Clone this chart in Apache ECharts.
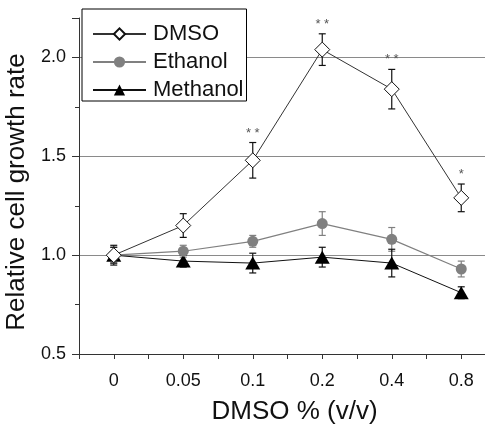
<!DOCTYPE html>
<html>
<head>
<meta charset="utf-8">
<script src="https://cdn.jsdelivr.net/npm/echarts@6/dist/echarts.min.js"></script>
<style>
  html, body { margin: 0; padding: 0; background: #fff; }
  #chart { width: 485px; height: 430px; }
</style>
</head>
<body>
<div id="chart"></div>
<script>
// values
const categories = ['0', '0.05', '0.1', '0.2', '0.4', '0.8'];
const dmso = [1.00, 1.15, 1.48, 2.04, 1.84, 1.29];
const dmsoErr = [0.05, 0.06, 0.09, 0.08, 0.10, 0.07];
const ethanol = [1.00, 1.02, 1.07, 1.16, 1.08, 0.93];
const ethanolErr = [0.04, 0.03, 0.03, 0.06, 0.06, 0.04];
const methanol = [1.00, 0.97, 0.96, 0.99, 0.96, 0.81];
const methanolErr = [0.04, 0.03, 0.05, 0.05, 0.07, 0.03];
const significance = ['', '', '**', '**', '**', '*'];

const font = 'Liberation Sans, Arial, sans-serif';
const chart = echarts.init(document.getElementById('chart'));

const toPoints = arr => arr.map((v, i) => [i, v]);
const toErr = (arr, err) => arr.map((v, i) => [i, v, err[i]]);

// error bar drawer, optional star labels above the upper cap
function errorBars(color, marks) {
  return function (params, api) {
    const x = api.value(0), v = api.value(1), e = api.value(2);
    const top = api.coord([x, v + e]);
    const bot = api.coord([x, v - e]);
    const w = 3.5;
    const style = { stroke: color, lineWidth: 1.2 };
    const children = [
      { type: 'line', shape: { x1: top[0], y1: top[1], x2: bot[0], y2: bot[1] }, style: style },
      { type: 'line', shape: { x1: top[0] - w, y1: top[1], x2: top[0] + w, y2: top[1] }, style: style },
      { type: 'line', shape: { x1: bot[0] - w, y1: bot[1], x2: bot[0] + w, y2: bot[1] }, style: style }
    ];
    const s = marks ? marks[params.dataIndex] : '';
    if (s) {
      children.push({
        type: 'text',
        x: top[0], y: top[1] - 3,
        style: {
          text: s.split('').join(' '),
          fill: '#555',
          font: '13px ' + font,
          align: 'center', verticalAlign: 'bottom',
          textAlign: 'center', textVerticalAlign: 'bottom'
        }
      });
    }
    return { type: 'group', children: children };
  };
}

const option = {
  animation: false,
  backgroundColor: '#fff',
  textStyle: { fontFamily: font },
  grid: { left: 79, right: -11, top: 18, bottom: 76, outerBoundsMode: 'none', containLabel: false },
  legend: {
    orient: 'vertical',
    left: 82,
    top: 9,
    padding: [14, 3, 0, 10],
    itemGap: 6,
    itemWidth: 53,
    itemHeight: 14,
    backgroundColor: '#fff',
    borderColor: '#000',
    borderWidth: 1,
    borderRadius: 0,
    textStyle: { fontSize: 22, color: '#111', fontFamily: font, padding: [0, 0, 0, 2] },
    data: ['DMSO', 'Ethanol', 'Methanol']
  },
  xAxis: {
    type: 'value',
    min: -0.5,
    max: 5.5,
    interval: 0.5,
    name: 'DMSO % (v/v)',
    nameLocation: 'middle',
    nameGap: 45,
    nameTextStyle: { fontSize: 26, color: '#111', fontFamily: font, padding: [0, 0, 0, 14] },
    axisLine: { onZero: false, lineStyle: { color: '#333', width: 1 } },
    axisTick: { show: true, inside: false, length: 5, lineStyle: { color: '#333' } },
    axisLabel: {
      fontSize: 18, color: '#111', margin: 18, fontFamily: font,
      showMinLabel: true, showMaxLabel: true,
      formatter: v => Number.isInteger(v) ? categories[v] : ''
    },
    splitLine: { show: false }
  },
  yAxis: {
    type: 'value',
    min: 0.5,
    max: 2.2,
    interval: 0.5,
    name: 'Relative cell growth rate',
    nameLocation: 'middle',
    nameGap: 37,
    nameTextStyle: { fontSize: 26, color: '#111', fontFamily: font, padding: [0, 12, 0, 0] },
    axisLine: { show: true, onZero: false, lineStyle: { color: '#333', width: 1 } },
    axisTick: { show: true, inside: false, length: 7, lineStyle: { color: '#333' } },
    minorTick: { show: true, splitNumber: 2, length: 4, lineStyle: { color: '#333' } },
    axisLabel: {
      fontSize: 18, color: '#111', margin: 13, fontFamily: font,
      showMaxLabel: false,
      formatter: v => v.toFixed(1)
    },
    splitLine: { show: true, showMinLine: false, showMaxLine: false, lineStyle: { color: '#8a8a8a', width: 1 } }
  },
  series: [
    {
      name: 'DMSO-err', type: 'custom', z: 1,
      renderItem: errorBars('#111', significance),
      data: toErr(dmso, dmsoErr)
    },
    {
      name: 'Ethanol-err', type: 'custom', z: 1,
      renderItem: errorBars('#808080', null),
      data: toErr(ethanol, ethanolErr)
    },
    {
      name: 'Methanol-err', type: 'custom', z: 1,
      renderItem: errorBars('#111', null),
      data: toErr(methanol, methanolErr)
    },
    {
      name: 'Methanol', type: 'line', z: 3,
      symbol: 'triangle', symbolSize: [15, 13],
      lineStyle: { color: '#111', width: 1 },
      itemStyle: { color: '#000', borderColor: '#000', borderWidth: 0 },
      data: toPoints(methanol)
    },
    {
      name: 'Ethanol', type: 'line', z: 4,
      symbol: 'circle', symbolSize: 11,
      lineStyle: { color: '#808080', width: 1.2 },
      itemStyle: { color: '#808080', borderColor: '#808080', borderWidth: 0 },
      data: toPoints(ethanol)
    },
    {
      name: 'DMSO', type: 'line', z: 5,
      symbol: 'diamond', symbolSize: [15, 15],
      lineStyle: { color: '#333', width: 1 },
      itemStyle: { color: '#fff', borderColor: '#111', borderWidth: 1 },
      data: toPoints(dmso)
    }
  ]
};

chart.setOption(option);
</script>
</body>
</html>
